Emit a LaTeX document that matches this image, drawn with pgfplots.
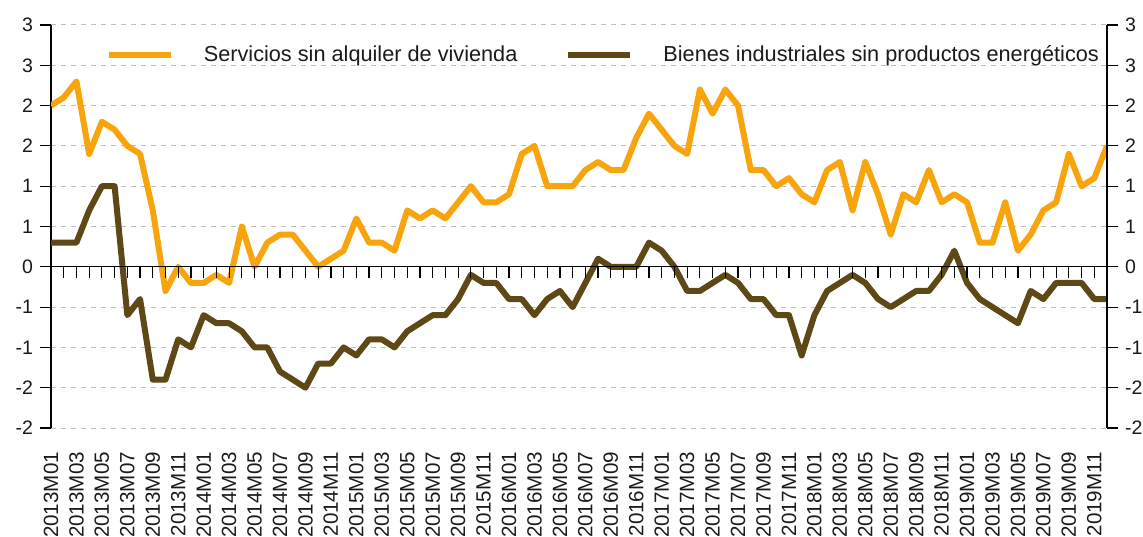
\documentclass[border=0pt]{standalone}
\usepackage{fontspec}
\setmainfont{Liberation Sans}
\usepackage{pgfplots}
\pgfplotsset{compat=1.18}
\usepackage{pgfplotstable}
\definecolor{serv}{RGB}{248,164,12}
\definecolor{bien}{RGB}{94,72,22}
\definecolor{txt}{RGB}{26,26,26}
\pgfplotstableread{
i s b
0 2.0 0.3
1 2.1 0.3
2 2.3 0.3
3 1.4 0.7
4 1.8 1.0
5 1.7 1.0
6 1.5 -0.6
7 1.4 -0.4
8 0.7 -1.4
9 -0.3 -1.4
10 0.0 -0.9
11 -0.2 -1.0
12 -0.2 -0.6
13 -0.1 -0.7
14 -0.2 -0.7
15 0.5 -0.8
16 0.0 -1.0
17 0.3 -1.0
18 0.4 -1.3
19 0.4 -1.4
20 0.2 -1.5
21 0.0 -1.2
22 0.1 -1.2
23 0.2 -1.0
24 0.6 -1.1
25 0.3 -0.9
26 0.3 -0.9
27 0.2 -1.0
28 0.7 -0.8
29 0.6 -0.7
30 0.7 -0.6
31 0.6 -0.6
32 0.8 -0.4
33 1.0 -0.1
34 0.8 -0.2
35 0.8 -0.2
36 0.9 -0.4
37 1.4 -0.4
38 1.5 -0.6
39 1.0 -0.4
40 1.0 -0.3
41 1.0 -0.5
42 1.2 -0.2
43 1.3 0.1
44 1.2 0.0
45 1.2 0.0
46 1.6 0.0
47 1.9 0.3
48 1.7 0.2
49 1.5 0.0
50 1.4 -0.3
51 2.2 -0.3
52 1.9 -0.2
53 2.2 -0.1
54 2.0 -0.2
55 1.2 -0.4
56 1.2 -0.4
57 1.0 -0.6
58 1.1 -0.6
59 0.9 -1.1
60 0.8 -0.6
61 1.2 -0.3
62 1.3 -0.2
63 0.7 -0.1
64 1.3 -0.2
65 0.9 -0.4
66 0.4 -0.5
67 0.9 -0.4
68 0.8 -0.3
69 1.2 -0.3
70 0.8 -0.1
71 0.9 0.2
72 0.8 -0.2
73 0.3 -0.4
74 0.3 -0.5
75 0.8 -0.6
76 0.2 -0.7
77 0.4 -0.3
78 0.7 -0.4
79 0.8 -0.2
80 1.4 -0.2
81 1.0 -0.2
82 1.1 -0.4
83 1.5 -0.4
}\datatable
\begin{document}
\begin{tikzpicture}
\pgfplotsset{
  common/.style={
    width=528bp, height=201.5bp, scale only axis,
    xmin=0, xmax=83, ymin=-2, ymax=3,
    ytick={-2,-1.5,...,3},
    yticklabels={-2,-2,-1,-1,0,1,1,2,2,3,3},
    ytick align=outside,
    major tick length=5.5bp,
    tick style={black, line width=0.6bp},
    y tick label style={font=\fontsize{9.75bp}{11.7bp}\selectfont, text=txt},
    y axis line style={-, black, line width=0.6bp},
  }
}
\begin{axis}[common,
  axis y line*=left, axis x line*=bottom,
  x axis line style={draw=none},
  xtick={0,2,...,82},
  xticklabels={2013M01,2013M03,2013M05,2013M07,2013M09,2013M11,
               2014M01,2014M03,2014M05,2014M07,2014M09,2014M11,
               2015M01,2015M03,2015M05,2015M07,2015M09,2015M11,
               2016M01,2016M03,2016M05,2016M07,2016M09,2016M11,
               2017M01,2017M03,2017M05,2017M07,2017M09,2017M11,
               2018M01,2018M03,2018M05,2018M07,2018M09,2018M11,
               2019M01,2019M03,2019M05,2019M07,2019M09,2019M11},
  xtick style={draw=none},
  xticklabel shift=8.5bp,
  x tick label style={rotate=90, anchor=east, font=\fontsize{10.3bp}{12bp}\selectfont, text=txt},
  ymajorgrids,
  grid style={dashed, dash pattern=on 2.5bp off 2.5bp, color=black!25, line width=0.5bp},
  legend columns=2,
  legend style={draw=none, fill=none, at={(0.524,0.925)}, anchor=center,
    font=\fontsize{10.85bp}{13bp}\selectfont, text=txt,
    /tikz/every odd column/.append style={column sep=13bp},
    /tikz/every even column/.append style={column sep=22bp}},
  legend image code/.code={\draw[#1] (0bp,0bp) -- (31bp,0bp);},
]
\addplot[serv, line width=3bp, line join=round] table[x=i, y=s] {\datatable};
\addlegendentry{Servicios sin alquiler de vivienda}
\addplot[bien, line width=3bp, line join=round] table[x=i, y=b] {\datatable};
\addlegendentry{Bienes industriales sin productos energéticos}
\coordinate (sw) at (rel axis cs:0,0);
\coordinate (ne) at (rel axis cs:1,1);
\end{axis}
\begin{axis}[common,
  axis y line*=right, axis x line=middle,
  x axis line style={-, black, line width=0.6bp},
  xtick={0,1,...,83}, xticklabels={},
  xtick align=outside,
]
\end{axis}
\pgfresetboundingbox
\useasboundingbox ([shift={(-25.5bp,-54bp)}]sw) rectangle ([shift={(18bp,12.5bp)}]ne);
\end{tikzpicture}
\end{document}
